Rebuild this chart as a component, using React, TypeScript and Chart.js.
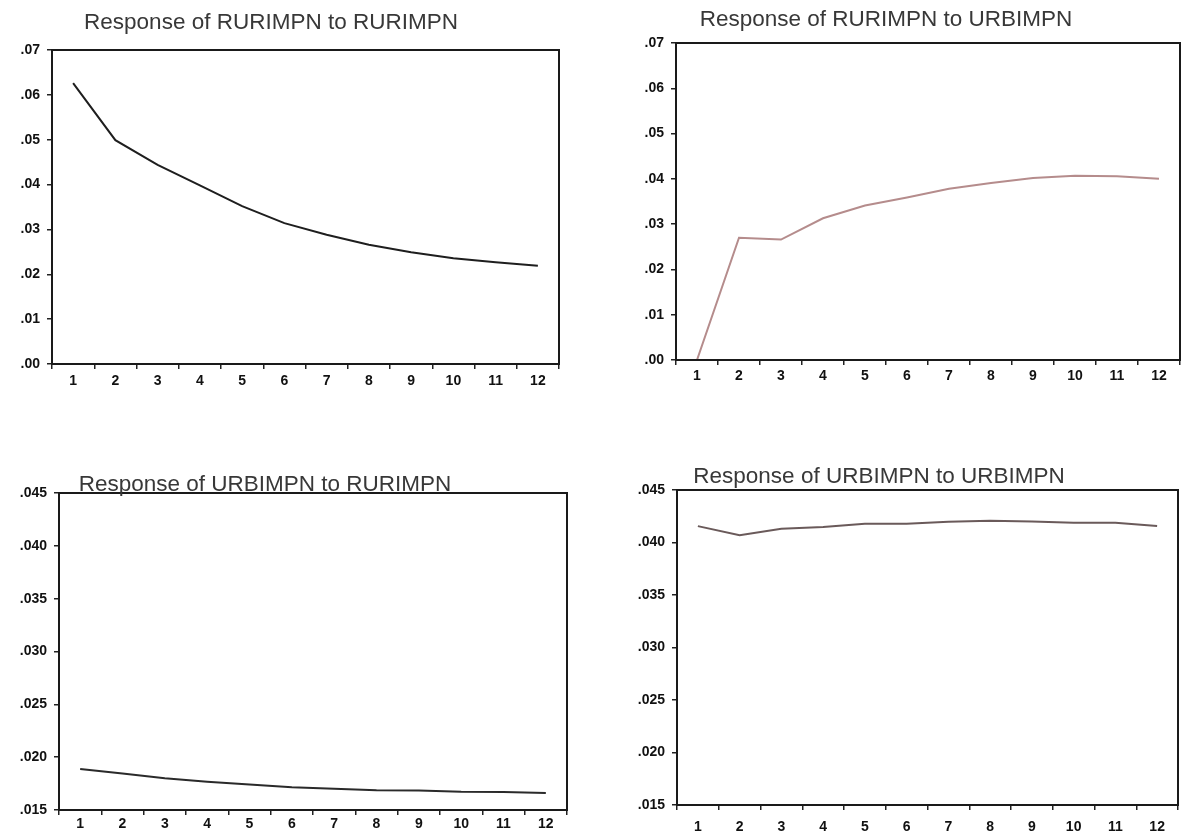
import React, { useEffect, useRef } from "react";
import { Chart, registerables } from "chart.js";

Chart.register(...registerables);

// ---- data ----
const periods = ["1", "2", "3", "4", "5", "6", "7", "8", "9", "10", "11", "12"];

const rurToRur = [0.0626, 0.0499, 0.0444, 0.0398, 0.0352, 0.0314, 0.0288, 0.0266, 0.0249, 0.0236, 0.0227, 0.0219];
const rurToUrb = [0.0, 0.027, 0.0266, 0.0313, 0.0341, 0.0359, 0.0378, 0.0391, 0.0402, 0.0407, 0.0406, 0.04];
const urbToRur = [0.01887, 0.01845, 0.018, 0.01768, 0.01742, 0.01716, 0.017, 0.01686, 0.01684, 0.01672, 0.0167, 0.01662];
const urbToUrb = [0.04156, 0.0407, 0.0413, 0.04147, 0.04178, 0.04178, 0.04197, 0.04206, 0.042, 0.04188, 0.04188, 0.04156];

const titles = [
  "Response of RURIMPN to RURIMPN",
  "Response of RURIMPN to URBIMPN",
  "Response of URBIMPN to RURIMPN",
  "Response of URBIMPN to URBIMPN",
];

const topRange = { min: 0, max: 0.07, step: 0.01, digits: 2 };
const bottomRange = { min: 0.015, max: 0.045, step: 0.005, digits: 3 };

const framePlugin = {
  id: "eviewsFrame",
  afterDraw(chart: any, _args: any, opts: any) {
    const { ctx, chartArea: a } = chart;
    ctx.save();
    ctx.strokeStyle = opts.color;
    ctx.lineWidth = 2;
    ctx.strokeRect(a.left, a.top, a.right - a.left, a.bottom - a.top);
    ctx.font = opts.titleFont;
    ctx.fillStyle = opts.titleColor;
    ctx.textAlign = "center";
    ctx.textBaseline = "middle";
    ctx.fillText(opts.title, opts.titleX, opts.titleY);
    ctx.restore();
  },
};

type PanelProps = {
  left: number;
  top: number;
  width: number;
  height: number;
  title: string;
  titleX: number;
  titleY: number;
  values: number[];
  color: string;
  range: { min: number; max: number; step: number; digits: number };
  yWidth: number;
  xHeight: number;
  xPad: number;
  padTop: number;
  padRight: number;
};

function Panel(p: PanelProps) {
  const ref = useRef<HTMLCanvasElement>(null);
  useEffect(() => {
    if (!ref.current) return;
    const chart = new Chart(ref.current, {
      type: "line",
      data: {
        labels: periods,
        datasets: [
          {
            data: p.values,
            borderColor: p.color,
            borderWidth: 2,
            pointRadius: 0,
            tension: 0,
            fill: false,
          },
        ],
      },
      plugins: [framePlugin as any],
      options: {
        animation: false,
        responsive: false,
        devicePixelRatio: 1,
        layout: { padding: { top: p.padTop, right: p.padRight, left: 0, bottom: 0 } },
        plugins: {
          legend: { display: false },
          tooltip: { enabled: false },
          eviewsFrame: {
            color: "#1a1a1a",
            title: p.title,
            titleX: p.titleX,
            titleY: p.titleY,
            titleFont: "22.5px 'Liberation Sans', Arial, sans-serif",
            titleColor: "#383838",
          },
        } as any,
        scales: {
          x: {
            type: "category",
            offset: true,
            grid: { offset: true, drawOnChartArea: false, drawTicks: true, tickLength: 5, color: "#222", lineWidth: 1.5 },
            border: { display: false },
            ticks: {
              color: "#111",
              font: { family: "'Liberation Sans', Arial, sans-serif", size: 14, weight: "bold" },
              padding: p.xPad,
              maxRotation: 0,
              autoSkip: false,
            },
            afterFit: (s: any) => {
              s.height = p.xHeight;
            },
          },
          y: {
            min: p.range.min,
            max: p.range.max,
            grid: { drawOnChartArea: false, drawTicks: true, tickLength: 5, color: "#222", lineWidth: 1.5 },
            border: { display: false },
            ticks: {
              stepSize: p.range.step,
              color: "#111",
              font: { family: "'Liberation Sans', Arial, sans-serif", size: 14, weight: "bold" },
              padding: 7,
              callback: (v: any) => Number(v).toFixed(p.range.digits).replace(/^0/, ""),
            },
            afterFit: (s: any) => {
              s.width = p.yWidth;
            },
          },
        },
      },
    });
    return () => chart.destroy();
  }, []);
  return (
    <canvas
      ref={ref}
      width={p.width}
      height={p.height}
      style={{ position: "absolute", left: p.left, top: p.top, width: p.width, height: p.height }}
    />
  );
}

export default function App() {
  return (
    <div style={{ position: "absolute", left: 0, top: 0, width: 1183, height: 839, background: "#fff" }}>
      <Panel left={0} top={0} width={591} height={420} title={titles[0]} titleX={271} titleY={23}
        values={rurToRur} color="#1e1e1e" range={topRange} yWidth={52} xHeight={56} xPad={4} padTop={50} padRight={32} />
      <Panel left={591} top={0} width={592} height={420} title={titles[1]} titleX={295} titleY={20}
        values={rurToUrb} color="#b58c8c" range={topRange} yWidth={85} xHeight={60} xPad={3} padTop={43} padRight={3} />
      <Panel left={0} top={420} width={591} height={419} title={titles[2]} titleX={265} titleY={65}
        values={urbToRur} color="#2a2a2a" range={bottomRange} yWidth={59} xHeight={29} xPad={1} padTop={73} padRight={24} />
      <Panel left={591} top={420} width={592} height={419} title={titles[3]} titleX={288} titleY={57}
        values={urbToUrb} color="#6a5a5a" range={bottomRange} yWidth={86} xHeight={34} xPad={9} padTop={70} padRight={5} />
    </div>
  );
}
